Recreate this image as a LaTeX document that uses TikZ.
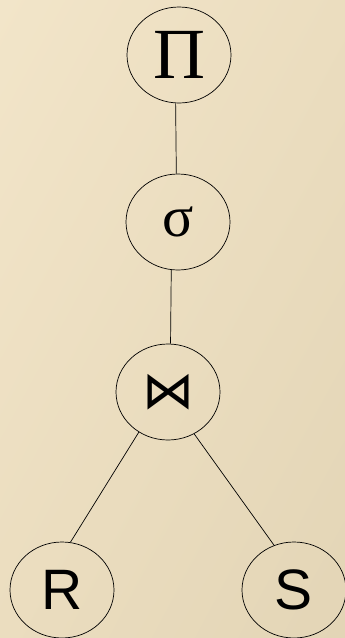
\documentclass[tikz,border=0pt]{standalone}
\usepackage{fontspec}
\setmainfont{Liberation Serif}
\newfontfamily\arialfont{Liberation Sans}
\newfontfamily\symfont{DejaVu Sans}
\usetikzlibrary{shapes.geometric,shadings}

\definecolor{paperlight}{RGB}{242,229,201}
\definecolor{papermid}{RGB}{235,221,191}
\definecolor{paperdark}{RGB}{227,213,182}

\tikzset{
  opnode/.style={draw,ellipse,line width=0.7pt,minimum width=104pt,minimum height=96pt,inner sep=0pt},
  edge/.style={line width=0.7pt}
}

\begin{document}
\begin{tikzpicture}[x=1pt,y=-1pt]
  % fondo
  \shade[upper left=paperlight,upper right=papermid,lower left=papermid,lower right=paperdark]
    (0,0) rectangle (345,638);
  \useasboundingbox (0,0) rectangle (345,638);
  % nodos del arbol
  \node[opnode] (proj) at (179,55) {\fontsize{72}{72}\selectfont Π};
  \node[opnode] (sel) at (178,222) {\fontsize{58}{58}\selectfont σ};
  \node[opnode] (join) at (168,392) {\symfont\fontsize{52}{52}\selectfont ⋈};
  \node[opnode] (rel1) at (62,590) {\arialfont\fontsize{57}{57}\selectfont R};
  \node[opnode] (rel2) at (294,590) {\arialfont\fontsize{57}{57}\selectfont S};
  % aristas
  \draw[edge] (proj.266) -- (sel.92);
  \draw[edge] (sel.262) -- (join.87);
  \draw[edge] (join.234) -- (rel1.80);
  \draw[edge] (join.302) -- (rel2.114);
\end{tikzpicture}
\end{document}
